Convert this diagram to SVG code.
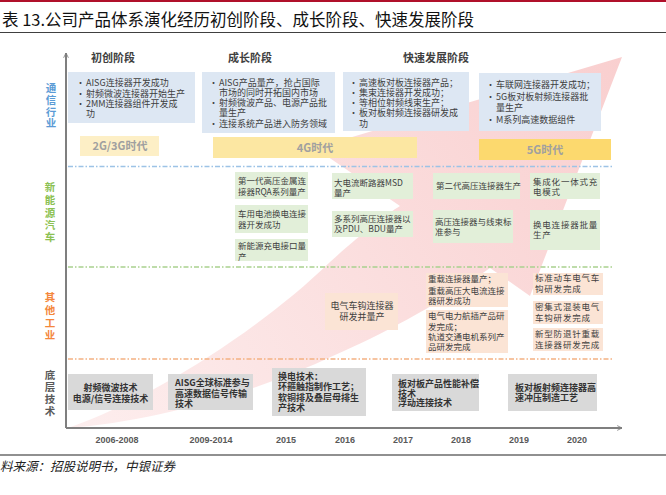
<svg xmlns="http://www.w3.org/2000/svg" width="666" height="495" viewBox="0 0 666 495">
<defs>
<linearGradient id="pinkg" x1="68" y1="428" x2="622" y2="57" gradientUnits="userSpaceOnUse">
<stop offset="0" stop-color="#fdeeee"/>
<stop offset="1" stop-color="#f9cfcf"/>
</linearGradient>
<marker id="chev" viewBox="0 0 10 10" refX="9" refY="5" markerWidth="6" markerHeight="6" orient="auto" markerUnits="userSpaceOnUse">
<path d="M1 1 L9 5 L1 9" fill="none" stroke="#7f7f7f" stroke-width="1.4"/>
</marker>
<style>
.cjk{font-family:"Noto Sans CJK SC","Noto Sans",sans-serif}
.bt{font-family:"Noto Sans CJK SC",sans-serif;font-size:9px;fill:#404040}
.gt{font-family:"Noto Sans CJK SC",sans-serif;font-size:8.5px;fill:#404040}
.kt{font-family:"Noto Sans CJK SC",sans-serif;font-size:9px;fill:#333;font-weight:bold}
.blue{fill:#dde7f3}
.green{fill:#e2efd9}
.orange{fill:#fbe4d5}
.gray{fill:#d9d9d9}
.era{font-family:"Noto Sans CJK SC",sans-serif;font-size:11px;font-weight:bold;fill:#a0a0a0;text-anchor:middle}
.stage{font-family:"Noto Sans CJK SC",sans-serif;font-size:11px;font-weight:bold;fill:#404040;text-anchor:middle}
.row{font-family:"Noto Sans CJK SC",sans-serif;font-size:10.5px;font-weight:bold;text-anchor:middle}
.year{font-family:"Liberation Sans",Arial,sans-serif;font-size:9px;font-weight:bold;fill:#595959;text-anchor:middle}
.dash{fill:none;stroke-width:1.3;stroke-dasharray:5 2 1.5 2}
</style>
</defs>
<rect width="666" height="495" fill="#ffffff"/>
<line x1="0" y1="1" x2="666" y2="1" stroke="#b0102a" stroke-width="2"/>
<text x="2" y="26" class="cjk" font-size="16.5" fill="#111">表 13.公司产品体系演化经历初创阶段、成长阶段、快速发展阶段</text>
<line x1="0" y1="32.5" x2="666" y2="32.5" stroke="#404040" stroke-width="1.2"/>

<path id="bigarrow" d="M68 428 C150 400 260 330 330 262 C360 235 385 215 400 206 L315 148 L622 57 L530 296 L490 268 C430 310 380 335 335 355 C250 395 150 422 68 428 Z" fill="url(#pinkg)"/>

<g id="connectors">
<line x1="66" y1="428" x2="66" y2="53" stroke="#7f7f7f" stroke-width="2" marker-end="url(#chev)"/>
<line x1="66" y1="428" x2="622" y2="428" stroke="#7f7f7f" stroke-width="2" marker-end="url(#chev)"/>
<line class="dash" x1="68" y1="166.5" x2="612" y2="166.5" stroke="#9dc3e6"/>
<line class="dash" x1="68" y1="267" x2="612" y2="267" stroke="#a9d18e"/>
<line class="dash" x1="68" y1="359" x2="612" y2="359" stroke="#f4b183"/>
</g>

<g id="stages">
<text class="stage" x="113" y="62">初创阶段</text>
<text class="stage" x="250" y="62">成长阶段</text>
<text class="stage" x="436" y="62">快速发展阶段</text>
</g>

<g id="row-telecom"><text class="row" fill="#5b9bd5"><tspan x="51" y="92">通</tspan><tspan x="51" y="104">信</tspan><tspan x="51" y="116">行</tspan><tspan x="51" y="127">业</tspan></text></g>
<g id="row-nev"><text class="row" fill="#8cc152"><tspan x="50" y="191">新</tspan><tspan x="50" y="204">能</tspan><tspan x="50" y="217">源</tspan><tspan x="50" y="229">汽</tspan><tspan x="50" y="241">车</tspan></text></g>
<g id="row-industry"><text class="row" fill="#f4873c"><tspan x="50" y="301">其</tspan><tspan x="50" y="314">他</tspan><tspan x="50" y="327">工</tspan><tspan x="50" y="339">业</tspan></text></g>
<g id="row-tech"><text class="row" fill="#595959"><tspan x="50" y="379">底</tspan><tspan x="50" y="391">层</tspan><tspan x="50" y="403">技</tspan><tspan x="50" y="415">术</tspan></text></g>

<g id="tele1"><rect class="blue" x="68" y="72" width="127" height="51"/>
<text class="bt"><tspan x="76" y="85.5">•</tspan><tspan x="86" y="85.5">AISG连接器开发成功</tspan><tspan x="76" y="96.5">•</tspan><tspan x="86" y="96.5">射频微波连接器开始生产</tspan><tspan x="76" y="106.5">•</tspan><tspan x="86" y="106.5">2MM连接器组件开发成</tspan><tspan x="86" y="116.5">功</tspan></text></g>
<g id="tele2"><rect class="blue" x="202" y="72" width="133" height="61"/>
<text class="bt"><tspan x="209" y="85.5">•</tspan><tspan x="219" y="85.5">AISG产品量产，抢占国际</tspan><tspan x="219" y="95.5">市场的同时开拓国内市场</tspan><tspan x="209" y="105.5">•</tspan><tspan x="219" y="105.5">射频微波产品、电源产品批</tspan><tspan x="219" y="115.5">量生产</tspan><tspan x="209" y="126.5">•</tspan><tspan x="219" y="126.5">连接系统产品进入防务领域</tspan></text></g>
<g id="tele3"><rect class="blue" x="343" y="72" width="126" height="59"/>
<text class="bt"><tspan x="349" y="85.5">•</tspan><tspan x="359" y="85.5">高速板对板连接器产品；</tspan><tspan x="349" y="95.5">•</tspan><tspan x="359" y="95.5">集束连接器开发成功；</tspan><tspan x="349" y="105.5">•</tspan><tspan x="359" y="105.5">等相位射频线束生产；</tspan><tspan x="349" y="115.5">•</tspan><tspan x="359" y="115.5">板对板射频连接器研发成</tspan><tspan x="359" y="126.5">功</tspan></text></g>
<g id="tele4"><rect class="blue" x="479" y="73" width="122" height="58"/>
<text class="bt"><tspan x="486" y="87.5">•</tspan><tspan x="496" y="87.5">车联网连接器开发成功；</tspan><tspan x="486" y="99.5">•</tspan><tspan x="496" y="99.5">5G板对板射频连接器批</tspan><tspan x="496" y="110.5">量生产</tspan><tspan x="486" y="122.5">•</tspan><tspan x="496" y="122.5">M系列高速数据组件</tspan></text></g>

<g id="era-2g"><rect x="80" y="136" width="79" height="20" fill="#fdefc6"/><text class="era" x="120" y="150">2G/3G时代</text></g>
<g id="era-4g"><rect x="213" y="137" width="204" height="21" fill="#fce7a2"/><text class="era" x="315" y="151.5">4G时代</text></g>
<g id="era-5g"><rect x="479" y="139" width="132" height="21" fill="#fcd96e"/><text class="era" x="545" y="153.5">5G时代</text></g>

<g id="nev1"><rect class="green" x="235" y="172" width="73" height="27"/><text class="gt"><tspan x="238" y="184">第一代高压金属连</tspan><tspan x="238" y="195">接器RQA系列量产</tspan></text></g>
<g id="nev2"><rect class="green" x="235" y="205" width="73" height="28"/><text class="gt"><tspan x="238" y="217">车用电池换电连接</tspan><tspan x="238" y="227.5">器开发成功</tspan></text></g>
<g id="nev3"><rect class="green" x="235" y="239" width="73" height="22"/><text class="gt"><tspan x="238" y="249">新能源充电接口量</tspan><tspan x="238" y="260">产</tspan></text></g>
<g id="nev4"><rect class="green" x="332" y="173" width="81" height="26"/><text class="gt" font-size="9"><tspan x="334" y="185.5">大电流断路器MSD</tspan><tspan x="334" y="195.5">量产</tspan></text></g>
<g id="nev5"><rect class="green" x="332" y="211" width="81" height="26"/><text class="gt"><tspan x="334" y="222">多系列高压连接器以</tspan><tspan x="334" y="232">及PDU、BDU量产</tspan></text></g>
<g id="nev6"><rect class="green" x="433" y="173" width="87" height="26"/><text class="gt" font-size="8.2"><tspan x="436" y="189">第二代高压连接器生产</tspan></text></g>
<g id="nev7"><rect class="green" x="433" y="210" width="80" height="33"/><text class="gt" font-size="8.3"><tspan x="435" y="225">高压连接器与线束标</tspan><tspan x="435" y="235">准参与</tspan></text></g>
<g id="nev8"><rect class="green" x="530" y="173" width="70" height="26"/><text class="gt" letter-spacing="0.8"><tspan x="533" y="185">集成化一体式充</tspan><tspan x="533" y="195">电模式</tspan></text></g>
<g id="nev9"><rect class="green" x="530" y="210" width="70" height="40"/><text class="gt" letter-spacing="0.8"><tspan x="533" y="228">换电连接器批量</tspan><tspan x="533" y="238">生产</tspan></text></g>

<g id="ind1"><rect class="orange" x="325" y="293" width="73" height="37"/><text class="bt" text-anchor="middle"><tspan x="362" y="309">电气车钩连接器</tspan><tspan x="362" y="319.5">研发并量产</tspan></text></g>
<g id="ind2"><rect class="orange" x="426" y="273" width="82" height="34"/><text class="gt"><tspan x="428" y="282">重载连接器量产；</tspan><tspan x="428" y="294">重载高压大电流连接</tspan><tspan x="428" y="304">器研发成功</tspan></text></g>
<g id="ind3"><rect class="orange" x="426" y="310" width="82" height="43"/><text class="gt"><tspan x="428" y="319">电气电力航插产品研</tspan><tspan x="428" y="330">发完成；</tspan><tspan x="428" y="340">轨道交通电机系列产</tspan><tspan x="428" y="350">品研发完成</tspan></text></g>
<g id="ind4"><rect class="orange" x="533" y="273" width="70" height="22"/><text class="gt" letter-spacing="0.8"><tspan x="535" y="281">标准动车电气车</tspan><tspan x="535" y="292">钩研发完成</tspan></text></g>
<g id="ind5"><rect class="orange" x="533" y="301" width="70" height="23"/><text class="gt" letter-spacing="0.8"><tspan x="535" y="310">密集式混装电气</tspan><tspan x="535" y="321">车钩研发完成</tspan></text></g>
<g id="ind6"><rect class="orange" x="533" y="328" width="70" height="23"/><text class="gt" letter-spacing="0.8"><tspan x="535" y="337">新型防退针重载</tspan><tspan x="535" y="348">连接器研发完成</tspan></text></g>

<g id="tech1"><rect class="gray" x="68" y="374" width="85" height="36"/><text class="kt" text-anchor="middle"><tspan x="110.5" y="390.5">射频微波技术</tspan><tspan x="110.5" y="401.5">电源/信号连接技术</tspan></text></g>
<g id="tech2"><rect class="gray" x="168" y="374" width="85" height="36"/><text class="kt"><tspan x="175" y="385.5">AISG全球标准参与</tspan><tspan x="175" y="396.5">高速数据信号传输</tspan><tspan x="175" y="406.5">技术</tspan></text></g>
<g id="tech3"><rect class="gray" x="272" y="368" width="94" height="48"/><text class="kt"><tspan x="278" y="379.5">换电技术：</tspan><tspan x="278" y="389.5">环箍触指制作工艺；</tspan><tspan x="278" y="400.5">软铜排及叠层母排生</tspan><tspan x="278" y="410.5">产技术</tspan></text></g>
<g id="tech4"><rect class="gray" x="392" y="374" width="87" height="37"/><text class="kt"><tspan x="398" y="386.5">板对板产品性能补偿</tspan><tspan x="398" y="396.5">技术</tspan><tspan x="398" y="405.5">浮动连接技术</tspan></text></g>
<g id="tech5"><rect class="gray" x="508" y="374" width="89" height="37"/><text class="kt"><tspan x="515" y="390.5">板对板射频连接器高</tspan><tspan x="515" y="400.5">速冲压制造工艺</tspan></text></g>

<g id="years">
<text class="year" x="117" y="443">2006-2008</text>
<text class="year" x="211" y="443">2009-2014</text>
<text class="year" x="286" y="443">2015</text>
<text class="year" x="345" y="443">2016</text>
<text class="year" x="403" y="443">2017</text>
<text class="year" x="461" y="443">2018</text>
<text class="year" x="519" y="443">2019</text>
<text class="year" x="577" y="443">2020</text>
</g>

<line x1="0" y1="455" x2="666" y2="455" stroke="#222" stroke-width="1.2"/>
<text x="0" y="471" class="cjk" font-size="12.5" font-style="italic" fill="#222">料来源：招股说明书，中银证券</text>
</svg>
